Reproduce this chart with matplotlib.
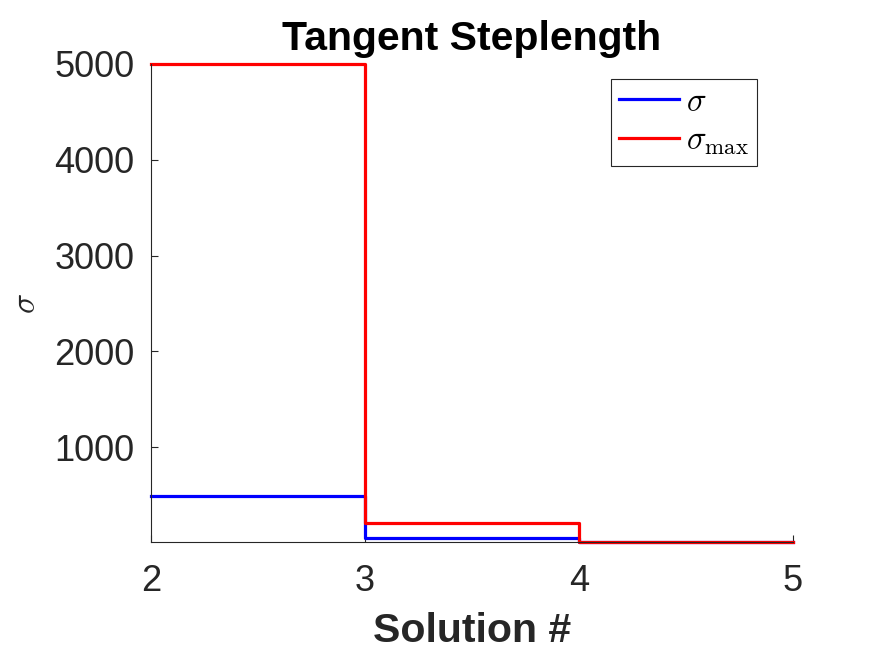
import matplotlib
matplotlib.use("Agg")
from matplotlib import pyplot as plt

solution = [2, 3, 4, 5]
sigma = [488, 53, 10, 10]
sigma_max = [5000, 209, 10, 10]

plt.rcParams['font.family'] = ['Liberation Sans', 'DejaVu Sans']
plt.rcParams['mathtext.fontset'] = 'cm'

fig = plt.figure(figsize=(8.75, 6.57), dpi=100)
ax = fig.add_axes([0.1726, 0.175, 0.7337, 0.7276])

ax.step(solution, sigma, where='post', color='#0000ff', lw=2.3, label=r'$\sigma$', clip_on=False)
ax.step(solution, sigma_max, where='post', color='#ff0000', lw=2.3, label=r'$\sigma_{\max}$', clip_on=False)

ax.set_xlim(2, 5)
ax.set_ylim(min(sigma + sigma_max), max(sigma + sigma_max))
ax.set_xticks([2, 3, 4, 5])
ax.set_yticks([1000, 2000, 3000, 4000, 5000])
ax.tick_params(direction='in', labelsize=26, colors='#262626', length=5, width=0.8)
ax.tick_params(axis='x', pad=16)
ax.tick_params(axis='y', pad=12)
for s in ['top', 'right']:
    ax.spines[s].set_visible(False)
for s in ['left', 'bottom']:
    ax.spines[s].set_color('#262626')
    ax.spines[s].set_linewidth(0.8)

ax.set_title('Tangent Steplength', fontsize=29.5, fontweight='bold', pad=10)
ax.set_xlabel('Solution #', fontsize=29.5, fontweight='bold', color='#262626', labelpad=9)
ax.set_ylabel(r'$\sigma$', fontsize=24, color='#262626', labelpad=9)

leg = ax.legend(loc='upper right', bbox_to_anchor=(0.959, 0.99), fontsize=23.5,
                fancybox=False, edgecolor='#262626', framealpha=1,
                handlelength=1.85, handletextpad=0.2, borderpad=0.25, labelspacing=0.25,
                borderaxespad=0.3)
leg.get_frame().set_linewidth(0.8)

fig.savefig('out.png', dpi=100)
